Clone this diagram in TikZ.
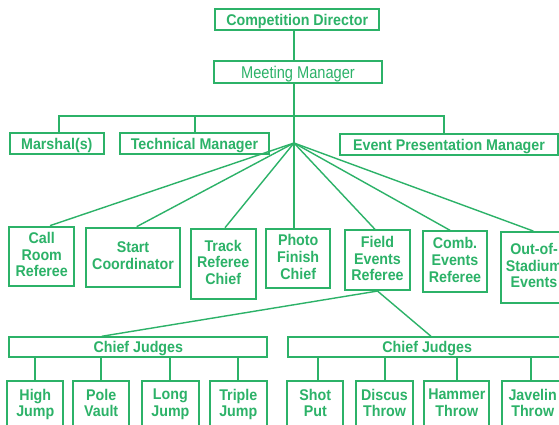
\documentclass[tikz,border=0pt]{standalone}
\usepackage{fontspec}
\setmainfont{Liberation Sans}[FakeStretch=0.92]
\newfontfamily\mmfont{Liberation Sans}[FakeStretch=0.86]
\definecolor{grn}{RGB}{44,178,104}
\begin{document}
\begin{tikzpicture}[x=1pt,y=-1pt,
  base/.style={draw=grn, line width=2pt, rectangle, inner sep=0pt, align=center,
    text=grn, font=\fontsize{15.5}{16.7}\selectfont\bfseries},
  box/.style={base, text height=12pt, text depth=1pt},
  mbox/.style={base, execute at begin node={\rule{0pt}{15.7pt}}, execute at end node={\rule[-3.5pt]{0pt}{3.5pt}}},
  conn/.style={draw=grn, line width=2pt},
  diag/.style={draw=grn, line width=1.4pt}]
\useasboundingbox (0,0) rectangle (559,425);
\clip (0,0) rectangle (559,425);
\fill[white] (0,0) rectangle (559,425);
% top
\node[box, minimum width=163.5pt, minimum height=21.5pt] (cd) at (297.2,19.6) {Competition Director};
\node[box, minimum width=168pt, minimum height=22pt, font=\fontsize{17}{17}\mmfont, text height=13.4pt, text depth=0.6pt] (mm) at (298,72) {Meeting Manager};
\node[box, minimum width=94.4pt, minimum height=21.4pt] (ma) at (56.8,143.7) {Marshal(s)};
\node[box, minimum width=149pt, minimum height=21pt] (tm) at (194.5,143.5) {Technical Manager};
\node[box, minimum width=218pt, minimum height=21pt] (ep) at (449,144.5) {Event Presentation Manager};
\coordinate (hub) at (294,143);
\coordinate (bar) at (294,116);
% second row
\node[mbox, minimum width=64.7pt, minimum height=59.3pt] (crr) at (41.7,256.3) {Call\\Room\\Referee};
\node[mbox, minimum width=94.6pt, minimum height=59.3pt] (sc) at (133,257.3) {Start\\Coordinator};
\node[mbox, minimum width=65pt, minimum height=70.6pt] (trc) at (223.2,264) {Track\\Referee\\Chief};
\node[mbox, minimum width=64.3pt, minimum height=59pt] (pfc) at (298.2,258.8) {Photo\\Finish\\Chief};
\node[mbox, minimum width=64.4pt, minimum height=59.7pt] (fer) at (377.5,260.2) {Field\\Events\\Referee};
\node[mbox, minimum width=64.6pt, minimum height=60.4pt] (cer) at (455,261.5) {Comb.\\Events\\Referee};
\node[mbox, minimum width=67pt, minimum height=70.7pt] (ose) at (534,267.4) {Out-of-\\Stadium\\Events};
% chief judges
\node[box, minimum width=258pt, minimum height=20pt] (cjl) at (138.3,347.3) {Chief Judges};
\node[box, minimum width=277.8pt, minimum height=20pt] (cjr) at (427.2,347.3) {Chief Judges};
% bottom row
\node[mbox, minimum width=56pt, minimum height=46.4pt] (hj) at (35.3,404.6) {High\\Jump};
\node[mbox, minimum width=56.3pt, minimum height=46.4pt] (pv) at (101.2,404.6) {Pole\\Vault};
\node[mbox, minimum width=56.7pt, minimum height=46.4pt] (lj) at (170.4,404.6) {Long\\Jump};
\node[mbox, minimum width=56.7pt, minimum height=46.4pt] (tj) at (238.3,404.6) {Triple\\Jump};
\node[mbox, minimum width=56pt, minimum height=46.4pt] (sp) at (315.3,404.6) {Shot\\Put};
\node[mbox, minimum width=56.4pt, minimum height=46.4pt] (dt) at (384.5,404.6) {Discus\\Throw};
\node[mbox, minimum width=65pt, minimum height=46.4pt] (ht) at (456.8,404.6) {Hammer\\Throw};
\node[mbox, minimum width=62pt, minimum height=46.4pt] (jt) at (532.7,404.6) {Javelin\\Throw};
% connectors top
\draw[conn] (hub |- cd.south) -- (hub |- mm.north);
\draw[conn] (hub |- mm.south) -- (hub);
\draw[conn] ([xshift=2.5pt]ma.north) -- ([xshift=2.5pt]ma.north |- bar) -- ([xshift=-5pt]ep.north |- bar) -- ([xshift=-5pt]ep.north);
\draw[conn] (tm.north) -- (tm.north |- bar);
% fan
\draw[diag] (hub) -- ([xshift=8.3pt]crr.north);
\draw[diag] (hub) -- ([xshift=3.7pt]sc.north);
\draw[diag] (hub) -- ([xshift=1.8pt]trc.north);
\draw[conn] (hub) -- (hub |- pfc.north);
\draw[diag] (hub) -- ([xshift=-2.5pt]fer.north);
\draw[diag] (hub) -- ([xshift=-5pt]cer.north);
\draw[diag] (hub) -- ([xshift=-0.7pt]ose.north);
% field events
\draw[diag] (fer.south) -- ([xshift=-36.6pt]cjl.north);
\draw[diag] (fer.south) -- ([xshift=3.8pt]cjr.north);
% verticals
\foreach \n in {hj,pv,lj,tj} \draw[conn] (\n.north) -- (\n.north |- cjl.south);
\draw[conn] ([xshift=3pt]sp.north) -- ([xshift=3pt]sp.north |- cjr.south);
\foreach \n in {dt,ht} \draw[conn] (\n.north) -- (\n.north |- cjr.south);
\draw[conn] ([xshift=-2pt]jt.north) -- ([xshift=-2pt]jt.north |- cjr.south);
\end{tikzpicture}
\end{document}
